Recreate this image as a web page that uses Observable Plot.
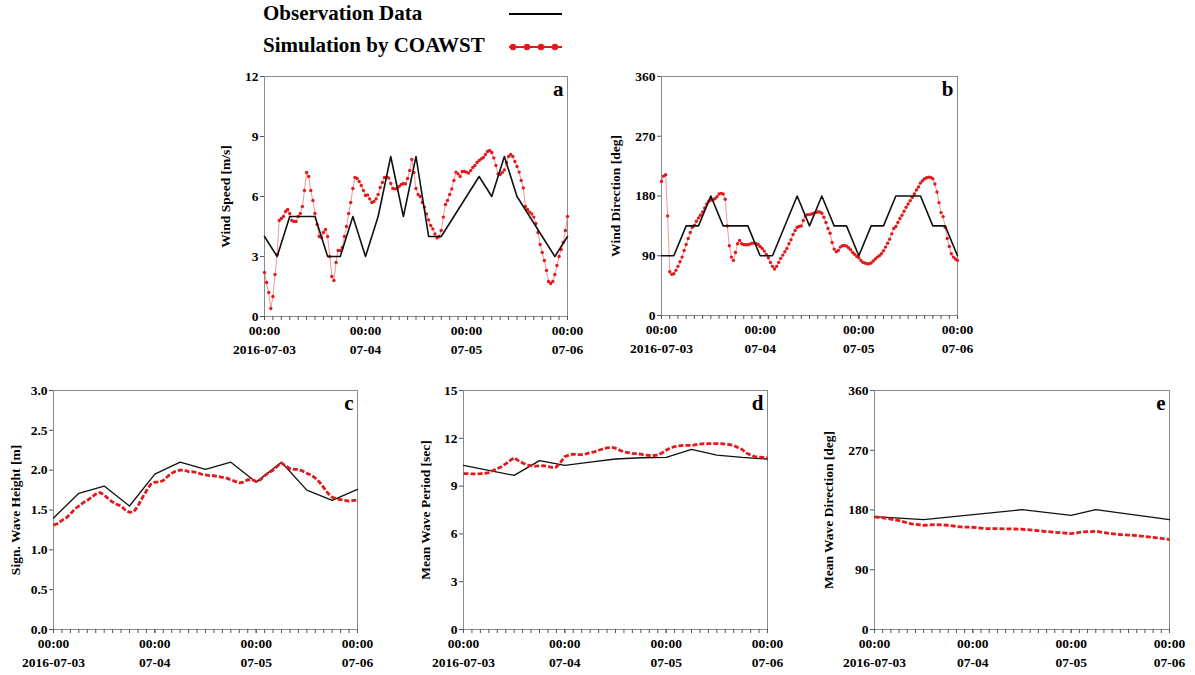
<!DOCTYPE html>
<html><head><meta charset="utf-8">
<script src="https://cdn.jsdelivr.net/npm/d3@7"></script>
<script src="https://cdn.jsdelivr.net/npm/@observablehq/plot@0.6"></script>
<style>
body{margin:0;background:#fff;}
#root{position:relative;width:1195px;height:675px;overflow:hidden;font-family:"Liberation Serif","Times New Roman",serif;font-weight:bold;}
.panel{position:absolute;}
</style></head><body><div id="root"></div>
<script>
// ---------- time axis ----------
const START = Date.UTC(2016, 6, 3);
const END = Date.UTC(2016, 6, 6);
const dayTickLabels = ["2016-07-03", "07-04", "07-05", "07-06"];
const legendLabels = ["Observation Data", "Simulation by COAWST"];

// ---------- (a) wind speed ----------
const obsWindSpeedHours = [0, 3, 6, 12, 15, 18, 21, 24, 27, 30, 33, 36, 39, 42, 51, 54, 57, 60, 69, 72];
const obsWindSpeed = [4, 3, 5, 5, 3, 3, 5, 3, 5, 8, 5, 8, 4, 4, 7, 6, 8, 6, 3, 4];
const simStepA = 0.5; // hours
const simWindSpeed = [
  2.2,1.7,1.2,0.4,1.0,2.1,3.1,4.8,4.9,5.0,5.25,5.35,
  5.15,4.8,4.75,4.75,5.0,5.15,5.5,6.3,7.2,7.0,6.3,5.8,
  5.15,4.6,4.0,3.95,4.2,4.35,4.0,3.0,2.0,1.8,2.7,3.3,
  3.3,3.45,4.0,4.5,5.15,5.7,6.4,6.95,6.9,6.75,6.55,6.3,
  6.05,6.08,5.88,5.7,5.75,5.88,6.1,6.45,6.7,6.95,6.97,6.93,
  6.65,6.4,6.38,6.4,6.5,6.6,6.65,6.63,6.9,7.3,7.85,7.2,
  6.4,6.1,6.0,5.7,5.47,5.13,4.83,4.55,4.38,4.13,3.93,4.0,
  4.3,4.97,5.6,5.8,6.1,6.38,6.8,7.22,7.13,7.0,7.25,7.25,
  7.22,7.17,7.3,7.45,7.55,7.7,7.8,7.88,7.95,8.1,8.25,8.3,
  8.2,7.93,7.55,7.13,7.1,7.2,7.33,7.7,8.0,8.1,8.0,7.75,
  7.5,7.22,6.8,6.43,5.5,5.35,5.22,5.13,4.97,4.65,4.2,3.6,
  3.2,2.8,2.3,1.75,1.65,1.75,2.1,2.55,3.0,3.35,3.7,4.3,
  5.0
];

// ---------- (b) wind direction ----------
const obsWindDirHours = [0, 3, 6, 9, 12, 15, 21, 24, 27, 33, 36, 39, 42, 45, 48, 51, 54, 57, 63, 66, 69, 72];
const obsWindDir = [90, 90, 135, 135, 180, 135, 135, 90, 90, 180, 135, 180, 135, 135, 90, 135, 135, 180, 180, 135, 135, 90];
const simStepB = 0.5;
const simWindDir = [
  202,210,212,150,66,62,63,68,74,81,88,98,
  107,116,125,133,136,142,147,151,156,162,168,172,
  174,174,176,179,183,184,183,175,135,105,88,83,
  95,108,113,108,107,106.5,106.5,107.5,109,109,108.5,107,
  104,101,97,92,87,80,74,70,74,80,86,91,
  96,101,108,114,122,128,133,134,135,143,150,152,
  152,153,154,155,156,156,154,148,140,131,124,110,
  100,96,98,103,105,105.5,104.5,102,99,95,92,89,
  87,83,80,79,78,78,79,82,85,88,90,93,
  97.5,103,109,115,123,131,134,140,146,151,157,163,
  168,173,178,183,189,193.5,199.5,203,206,207.5,208.5,208,
  206,198,186,170,155,149,133,116,104,93,88,85,
  83
];

// ---------- (c) significant wave height ----------
const obsWaveHeightHours = [0, 6, 12, 18, 24, 30, 36, 42, 48, 54, 60, 66, 72];
const obsWaveHeight = [1.40, 1.71, 1.80, 1.55, 1.95, 2.10, 2.01, 2.10, 1.85, 2.10, 1.75, 1.62, 1.76];
const simStepC = 1;
const simWaveHeight = [
  1.31,1.33,1.37,1.40,1.45,1.51,1.55,1.59,1.62,1.66,1.70,1.72,
  1.69,1.64,1.60,1.57,1.55,1.50,1.47,1.48,1.55,1.65,1.74,1.82,
  1.85,1.85,1.87,1.92,1.96,1.99,2.00,2.00,1.98,1.98,1.97,1.95,
  1.94,1.93,1.93,1.92,1.91,1.90,1.88,1.86,1.84,1.85,1.88,1.88,
  1.86,1.88,1.93,1.97,2.00,2.05,2.09,2.05,2.02,2.01,2.01,1.99,
  1.96,1.94,1.90,1.85,1.78,1.71,1.66,1.64,1.63,1.62,1.61,1.62,
  1.62
];

// ---------- (d) mean wave period ----------
const obsWavePeriodHours = [0, 12, 18, 24, 30, 36, 42, 48, 54, 60, 66, 72];
const obsWavePeriod = [10.3, 9.67, 10.6, 10.3, 10.5, 10.7, 10.78, 10.8, 11.3, 10.95, 10.8, 10.7];
const simStepD = 1;
const simWavePeriod = [
  9.78,9.78,9.77,9.77,9.78,9.80,9.85,9.98,10.1,10.22,10.4,10.6,
  10.78,10.6,10.45,10.33,10.28,10.25,10.27,10.28,10.22,10.18,10.2,10.5,
  10.85,10.95,11.0,10.98,10.98,11.02,11.1,11.15,11.25,11.33,11.4,11.43,
  11.38,11.25,11.15,11.1,11.05,11.03,11.0,10.95,10.92,10.92,10.95,11.08,
  11.25,11.4,11.48,11.52,11.55,11.55,11.55,11.6,11.63,11.66,11.66,11.66,
  11.67,11.66,11.63,11.6,11.55,11.42,11.3,11.08,10.95,10.85,10.82,10.8,
  10.78
];

// ---------- (e) mean wave direction ----------
const obsWaveDirHours = [0, 12, 36, 48, 54, 72];
const obsWaveDir = [170, 165.5, 180.5, 172, 180.5, 165.5];
const simStepE = 3;
const simWaveDir = [169.5,167.5,164,159,157,158,157,154.5,154,152,152,151.5,151,149.5,147.5,146,144.5,147,148,145,143,142,140,138,135.5];

// ---------- helpers ----------
const RED = "#e31a1c";
const toDate = h => new Date(START + h * 3600000);
const majorTicks = d3.utcDay.range(new Date(START), new Date(END + 1));
const minorTicks = d3.utcHour.every(2).range(new Date(START), new Date(END + 1));
const root = document.getElementById("root");

function makePanel(cfg) {
  const obs = cfg.obsHours.map((h, i) => ({t: toDate(h), v: cfg.obsValues[i]}));
  const sim = cfg.simValues.map((v, i) => ({t: toDate(i * cfg.simStep), v}));
  const marks = [
    Plot.frame({stroke: "#8a8a8a", strokeWidth: 1}),
    Plot.axisX(minorTicks, {tickSize: 4, tickFormat: () => "", stroke: "#555", label: null}),
    Plot.axisX(majorTicks, {tickSize: 4, tickPadding: 2, tickFormat: (d, i) => "00:00\n" + dayTickLabels[i],
      lineHeight: 1.35, fontSize: 13.5, fontWeight: "bold", fill: "#000", stroke: "#555", label: null}),
    Plot.axisY(cfg.yTicks, {tickSize: 4, tickPadding: 2, tickFormat: cfg.yFormat, fontSize: 13.5,
      fontWeight: "bold", fill: "#000", stroke: "#555", label: null}),
    Plot.text([cfg.ylabel], {frameAnchor: "left", dx: -cfg.labelOff, rotate: -90, text: d => d,
      textAnchor: "middle", lineAnchor: "middle", fontSize: 13.5, fontWeight: "bold", fill: "#000"}),
    Plot.text([cfg.letter], {frameAnchor: "top-right", dx: -4, dy: 13, text: d => d, textAnchor: "end",
      lineAnchor: "middle", fontSize: 21, fontWeight: "bold", fill: "#000"})
  ];
  if (cfg.dotted) {
    marks.push(
      Plot.line(sim, {x: "t", y: "v", stroke: "#ef7a7a", strokeWidth: 0.8}),
      Plot.dot(sim, {x: "t", y: "v", r: 1.7, fill: RED, stroke: "none"}),
      Plot.line(obs, {x: "t", y: "v", stroke: "#111", strokeWidth: 1.6})
    );
  } else {
    marks.push(
      Plot.line(obs, {x: "t", y: "v", stroke: "#111", strokeWidth: 1.3}),
      Plot.line(sim, {x: "t", y: "v", stroke: RED, strokeWidth: 2.8, strokeDasharray: "5,2",
        strokeLinecap: "butt"})
    );
  }
  const svg = Plot.plot({
    width: cfg.width, height: cfg.height,
    marginLeft: cfg.ml, marginRight: cfg.mr, marginTop: cfg.mt, marginBottom: cfg.mb,
    x: {type: "utc", domain: [new Date(START), new Date(END)]},
    y: {domain: cfg.yDomain},
    style: {fontFamily: "'Liberation Serif','Times New Roman',serif", fontWeight: "bold", fontSize: "13.5px",
      color: "#000", background: "transparent", overflow: "visible"},
    marks
  });
  const div = document.createElement("div");
  div.className = "panel";
  div.style.left = cfg.left + "px";
  div.style.top = cfg.top + "px";
  div.appendChild(svg);
  root.appendChild(div);
}

makePanel({left: 180, top: 56, width: 395, height: 310, ml: 84, mr: 8, mt: 20, mb: 50,
  yDomain: [0, 12], yTicks: [0, 3, 6, 9, 12], yFormat: d3.format("d"), ylabel: "Wind Speed [m/s]", labelOff: 39,
  letter: "a", obsHours: obsWindSpeedHours, obsValues: obsWindSpeed, simValues: simWindSpeed, simStep: simStepA, dotted: true});
makePanel({left: 580, top: 56, width: 390, height: 310, ml: 81, mr: 13, mt: 20, mb: 51,
  yDomain: [0, 360], yTicks: [0, 90, 180, 270, 360], yFormat: d3.format("d"), ylabel: "Wind Direction [deg]", labelOff: 46,
  letter: "b", obsHours: obsWindDirHours, obsValues: obsWindDir, simValues: simWindDir, simStep: simStepB, dotted: true});
makePanel({left: 0, top: 370, width: 370, height: 305, ml: 53, mr: 13, mt: 20, mb: 46,
  yDomain: [0, 3], yTicks: [0, 0.5, 1, 1.5, 2, 2.5, 3], yFormat: d3.format(".1f"), ylabel: "Sign. Wave Height [m]", labelOff: 38,
  letter: "c", obsHours: obsWaveHeightHours, obsValues: obsWaveHeight, simValues: simWaveHeight, simStep: simStepC, dotted: false});
makePanel({left: 400, top: 370, width: 380, height: 305, ml: 63, mr: 13, mt: 20, mb: 46,
  yDomain: [0, 15], yTicks: [0, 3, 6, 9, 12, 15], yFormat: d3.format("d"), ylabel: "Mean Wave Period [sec]", labelOff: 38,
  letter: "d", obsHours: obsWavePeriodHours, obsValues: obsWavePeriod, simValues: simWavePeriod, simStep: simStepD, dotted: false});
makePanel({left: 805, top: 370, width: 390, height: 305, ml: 69, mr: 26, mt: 20, mb: 46,
  yDomain: [0, 360], yTicks: [0, 90, 180, 270, 360], yFormat: d3.format("d"), ylabel: "Mean Wave Direction [deg]", labelOff: 46,
  letter: "e", obsHours: obsWaveDirHours, obsValues: obsWaveDir, simValues: simWaveDir, simStep: simStepE, dotted: false});

// ---------- legend ----------
const ns = "http://www.w3.org/2000/svg";
const leg = document.createElementNS(ns, "svg");
leg.setAttribute("width", 600); leg.setAttribute("height", 62);
leg.style.position = "absolute"; leg.style.left = "0px"; leg.style.top = "0px";
function el(tag, attrs, parent) {
  const e = document.createElementNS(ns, tag);
  for (const k in attrs) e.setAttribute(k, attrs[k]);
  parent.appendChild(e); return e;
}
const t1 = el("text", {x: 263, y: 20, "font-size": 21, "font-weight": "bold", "font-family": "'Liberation Serif',serif", fill: "#000"}, leg);
t1.textContent = legendLabels[0];
const t2 = el("text", {x: 263, y: 52, "font-size": 21, "font-weight": "bold", "font-family": "'Liberation Serif',serif", fill: "#000"}, leg);
t2.textContent = legendLabels[1];
el("line", {x1: 509, x2: 562, y1: 14, y2: 14, stroke: "#000", "stroke-width": 2}, leg);
el("line", {x1: 509, x2: 562, y1: 47, y2: 47, stroke: RED, "stroke-width": 1.8}, leg);
[513, 527, 541, 555].forEach(cx => el("circle", {cx, cy: 47, r: 3.2, fill: RED}, leg));
root.appendChild(leg);
</script>
</body></html>
